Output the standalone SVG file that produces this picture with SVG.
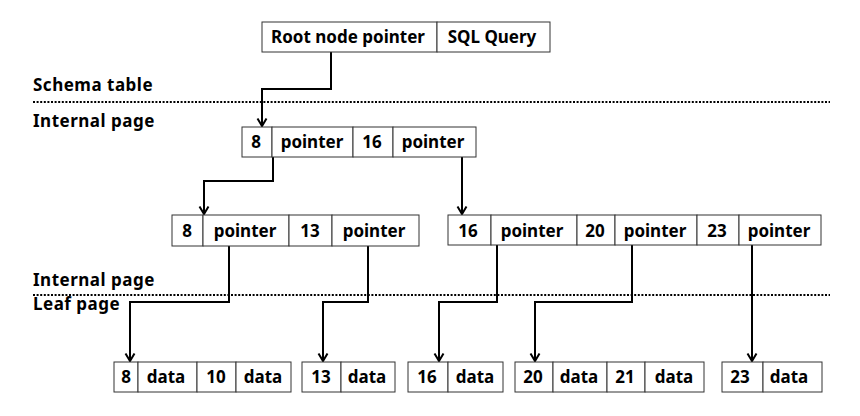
<svg xmlns="http://www.w3.org/2000/svg" width="860" height="416" viewBox="0 0 860 416">
<defs>
<style>
.cell{fill:#fff;stroke:#333;stroke-width:1}
.t{font-family:"Noto Sans","Liberation Sans",sans-serif;font-weight:bold;font-size:17px;fill:#000;text-anchor:middle}
.lbl{font-family:"Noto Sans","Liberation Sans",sans-serif;font-weight:bold;font-size:17px;letter-spacing:0.5px;fill:#000}
.dot{stroke:#000;stroke-width:2;stroke-dasharray:2 1.6;fill:none}
.con{stroke:#000;stroke-width:2;fill:none;marker-end:url(#arr)}
</style>
<marker id="arr" markerUnits="userSpaceOnUse" orient="auto" refX="0" refY="0" markerWidth="20" markerHeight="20" viewBox="-10 -10 20 20" overflow="visible">
<path d="M-7.5,-4.5 L0,0 L-7.5,4.5" fill="none" stroke="#000" stroke-width="2"/>
</marker>
</defs>
<rect width="860" height="416" fill="#fff"/>

<g id="labels">
<text class="lbl" x="33" y="91">Schema table</text>
<text class="lbl" x="33" y="127">Internal page</text>
<text class="lbl" x="33" y="286">Internal page</text>
<text class="lbl" x="33" y="310">Leaf page</text>
<line class="dot" x1="33" y1="102" x2="830" y2="102"/>
<line class="dot" x1="33" y1="295" x2="830" y2="295"/>
</g>

<g id="connectors">
<path class="con" d="M331,52 V89 H262 V126"/>
<path class="con" d="M273,157 V181 H204 V214"/>
<path class="con" d="M462,157 V214"/>
<path class="con" d="M229,246 V302 H130 V361"/>
<path class="con" d="M368,246 V302 H323 V361"/>
<path class="con" d="M497,245 V302 H439 V361"/>
<path class="con" d="M632,245 V302 H535 V361"/>
<path class="con" d="M752,245 V361"/>
</g>

<g id="root">
<rect class="cell" x="262" y="22" width="175" height="30"/>
<rect class="cell" x="437" y="22" width="113" height="30"/>
<text class="t" x="348" y="43">Root node pointer</text>
<text class="t" x="492" y="43">SQL Query</text>
</g>

<g id="internal-top">
<rect class="cell" x="242" y="127" width="30" height="30"/>
<rect class="cell" x="272" y="127" width="81" height="30"/>
<rect class="cell" x="353" y="127" width="40" height="30"/>
<rect class="cell" x="393" y="127" width="83" height="30"/>
<text class="t" x="256" y="148">8</text>
<text class="t" x="312" y="148">pointer</text>
<text class="t" x="372" y="148">16</text>
<text class="t" x="433" y="148">pointer</text>
</g>

<g id="internal-left">
<rect class="cell" x="172" y="215" width="31" height="31"/>
<rect class="cell" x="203" y="215" width="86" height="31"/>
<rect class="cell" x="289" y="215" width="43" height="31"/>
<rect class="cell" x="332" y="215" width="87" height="31"/>
<text class="t" x="187" y="237">8</text>
<text class="t" x="245" y="237">pointer</text>
<text class="t" x="310" y="237">13</text>
<text class="t" x="374" y="237">pointer</text>
</g>

<g id="internal-right">
<rect class="cell" x="448" y="215" width="43" height="30"/>
<rect class="cell" x="491" y="215" width="86" height="30"/>
<rect class="cell" x="577" y="215" width="38" height="30"/>
<rect class="cell" x="615" y="215" width="82" height="30"/>
<rect class="cell" x="697" y="215" width="42" height="30"/>
<rect class="cell" x="739" y="215" width="82" height="30"/>
<text class="t" x="468" y="237">16</text>
<text class="t" x="532" y="237">pointer</text>
<text class="t" x="595" y="237">20</text>
<text class="t" x="655" y="237">pointer</text>
<text class="t" x="717" y="237">23</text>
<text class="t" x="779" y="237">pointer</text>
</g>

<g id="leaf-1">
<rect class="cell" x="114" y="362" width="24" height="30"/>
<rect class="cell" x="138" y="362" width="59" height="30"/>
<rect class="cell" x="197" y="362" width="39" height="30"/>
<rect class="cell" x="236" y="362" width="55" height="30"/>
<text class="t" x="126" y="383">8</text>
<text class="t" x="166" y="383">data</text>
<text class="t" x="216" y="383">10</text>
<text class="t" x="263" y="383">data</text>
</g>

<g id="leaf-2">
<rect class="cell" x="302" y="362" width="39" height="30"/>
<rect class="cell" x="341" y="362" width="54" height="30"/>
<text class="t" x="321" y="383">13</text>
<text class="t" x="367" y="383">data</text>
</g>

<g id="leaf-3">
<rect class="cell" x="408" y="362" width="40" height="30"/>
<rect class="cell" x="448" y="362" width="55" height="30"/>
<text class="t" x="427" y="383">16</text>
<text class="t" x="475" y="383">data</text>
</g>

<g id="leaf-4">
<rect class="cell" x="515" y="362" width="38" height="30"/>
<rect class="cell" x="553" y="362" width="54" height="30"/>
<rect class="cell" x="607" y="362" width="38" height="30"/>
<rect class="cell" x="645" y="362" width="59" height="30"/>
<text class="t" x="533" y="383">20</text>
<text class="t" x="579" y="383">data</text>
<text class="t" x="625" y="383">21</text>
<text class="t" x="674" y="383">data</text>
</g>

<g id="leaf-5">
<rect class="cell" x="722" y="362" width="41" height="30"/>
<rect class="cell" x="763" y="362" width="59" height="30"/>
<text class="t" x="740" y="383">23</text>
<text class="t" x="789" y="383">data</text>
</g>
</svg>
